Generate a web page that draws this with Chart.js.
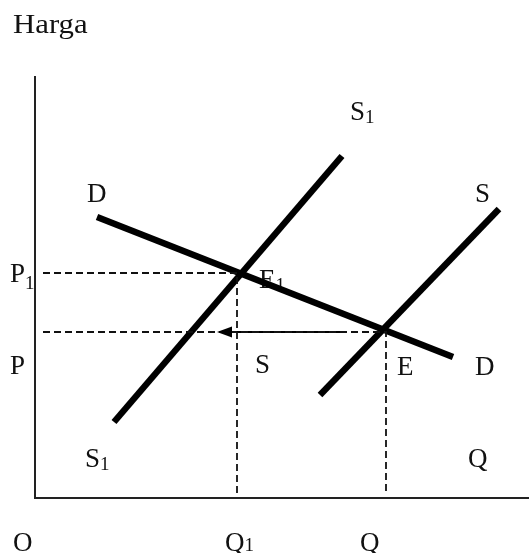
<!DOCTYPE html>
<html>
<head>
<meta charset="utf-8">
<script src="https://cdn.jsdelivr.net/npm/chart.js@4/dist/chart.umd.min.js"></script>
<style>
html,body{margin:0;padding:0;background:#fff;overflow:hidden}
canvas{display:block}
</style>
</head>
<body>
<canvas id="c" width="529" height="553"></canvas>
<script>
// ---- data (quantity on x, price on y) ----
const demandQ   = [6.2, 41.8];
const demandP   = [28.1, 14.1];
const supply1Q  = [7.9, 30.7];
const supply1P  = [7.6, 34.2];
const supplyQ   = [28.5, 46.4];
const supplyP   = [10.3, 28.9];
const priceLevels    = [22.5, 16.6];   // P1, P
const quantityLevels = [20.2, 35.1];   // Q1, Q
const arrowQ = [31.0, 18.2];           // shift of supply: from, to (tip)
const axisMaxQ = 49.4;
const axisMaxP = 42.2;
const axisTitle = ['Harga', ''];
const priceTickLabels    = [['P','1'], ['P','']];
const quantityTickLabels = [['O',''], ['Q','1'], ['Q','']];
const curveLabels = [['D',''], ['S','1'], ['S','']];
const pointLabels = [['E','1'], ['E',''], ['S','']];

const pts = (qs, ps) => qs.map((q, i) => ({x: q, y: ps[i]}));

// label anchors (left x in quantity units, baseline in price units)
const labelAnchors = [
  {t: axisTitle, q: -2.2, p: 46.5, sx: 1.14},
  {t: curveLabels[1], q: 31.5, p: 37.8},
  {t: curveLabels[0], q: 5.2,  p: 29.6},
  {t: curveLabels[2], q: 44.0, p: 29.6},
  {t: priceTickLabels[0], q: -2.5, p: 21.6, subDy: 7},
  {t: pointLabels[0], q: 22.4, p: 21.0, subDy: 3},
  {t: priceTickLabels[1], q: -2.5, p: 12.4},
  {t: pointLabels[2], q: 22.0, p: 12.5},
  {t: pointLabels[1], q: 36.2, p: 12.3},
  {t: curveLabels[0], q: 44.0, p: 12.3},
  {t: curveLabels[1], q: 5.0,  p: 3.1},
  {t: quantityTickLabels[2], q: 43.3, p: 3.1},
  {t: quantityTickLabels[0], q: -2.2, p: -5.3},
  {t: quantityTickLabels[1], q: 19.0, p: -5.3, subDy: 0},
  {t: quantityTickLabels[2], q: 32.5, p: -5.3}
];

const MAIN_FONT = '27px "Liberation Serif", "Times New Roman", serif';
const SUB_FONT  = '19px "Liberation Serif", "Times New Roman", serif';

const labelPlugin = {
  id: 'labels',
  beforeDatasetsDraw(chart) {
    const {ctx, scales: {x, y}} = chart;
    ctx.save();
    ctx.fillStyle = '#111';
    ctx.textBaseline = 'alphabetic';
    ctx.textAlign = 'left';
    labelAnchors.forEach(a => {
      const px = x.getPixelForValue(a.q);
      const py = y.getPixelForValue(a.p);
      ctx.save();
      ctx.translate(px, py);
      if (a.sx) ctx.scale(a.sx, 1);
      ctx.font = MAIN_FONT;
      ctx.fillText(a.t[0], 0, 0);
      if (a.t[1]) {
        const w = ctx.measureText(a.t[0]).width;
        ctx.font = SUB_FONT;
        ctx.fillText(a.t[1], w, (a.subDy !== undefined ? a.subDy : 3));
      }
      ctx.restore();
    });
    ctx.restore();
  },
  afterDatasetsDraw(chart) {
    const {ctx, scales: {x, y}} = chart;
    const tipX = x.getPixelForValue(arrowQ[1]);
    const tipY = y.getPixelForValue(priceLevels[1]);
    ctx.save();
    ctx.fillStyle = '#000';
    ctx.beginPath();
    ctx.moveTo(tipX, tipY);
    ctx.lineTo(tipX + 15, tipY - 5.5);
    ctx.lineTo(tipX + 15, tipY + 5.5);
    ctx.closePath();
    ctx.fill();
    ctx.restore();
  }
};

const thick = {showLine: true, pointRadius: 0, borderColor: '#000', borderWidth: 6.5, borderCapStyle: 'butt', fill: false};
const dashed = {showLine: true, pointRadius: 0, borderColor: '#111', borderWidth: 1.8, borderDash: [7, 4], fill: false};
const axisStyle = {showLine: true, pointRadius: 0, borderColor: '#222', borderWidth: 2, fill: false};

new Chart(document.getElementById('c'), {
  type: 'scatter',
  data: {
    datasets: [
      {...axisStyle, data: [{x: 0, y: axisMaxP}, {x: 0, y: 0}, {x: axisMaxQ, y: 0}]},
      {...dashed, data: [{x: 0.8, y: priceLevels[0]}, {x: quantityLevels[0], y: priceLevels[0]}, {x: quantityLevels[0], y: 0.5}]},
      {...dashed, data: [{x: 0.8, y: priceLevels[1]}, {x: quantityLevels[1], y: priceLevels[1]}, {x: quantityLevels[1], y: 0.5}]},
      {showLine: true, pointRadius: 0, borderColor: '#000', borderWidth: 2, data: [{x: arrowQ[0], y: priceLevels[1]}, {x: arrowQ[1] + 1.2, y: priceLevels[1]}]},
      {...thick, data: pts(demandQ, demandP)},
      {...thick, data: pts(supply1Q, supply1P)},
      {...thick, data: pts(supplyQ, supplyP)}
    ]
  },
  options: {
    responsive: false,
    devicePixelRatio: 1,
    animation: false,
    layout: {padding: 0},
    plugins: {legend: {display: false}, tooltip: {enabled: false}},
    elements: {line: {tension: 0}},
    scales: {
      x: {type: 'linear', min: -3.5, max: 49.4, display: false},
      y: {type: 'linear', min: -5.5, max: 49.8, display: false}
    }
  },
  plugins: [labelPlugin]
});
</script>
</body>
</html>
